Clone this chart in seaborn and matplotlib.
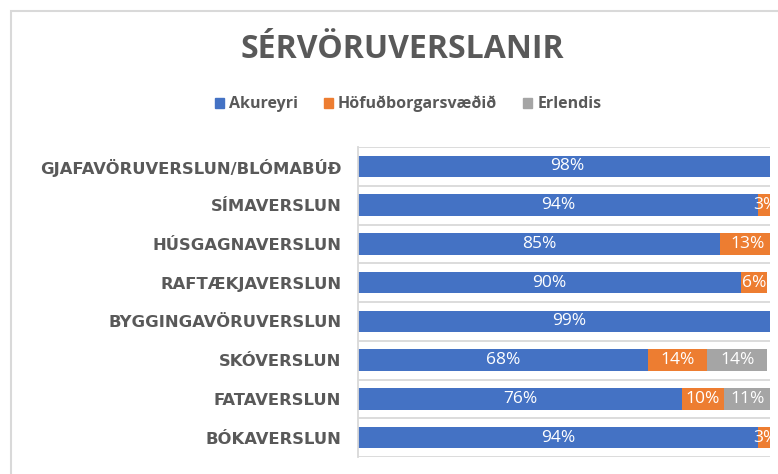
import matplotlib
matplotlib.use("Agg")
import matplotlib.pyplot as plt
import matplotlib.patches as mpatches
import numpy as np
import pandas as pd
import seaborn as sns

# gögn lesin af myndinni (hlutfall í %)
flokkar = ["GJAFAVÖRUVERSLUN/BLÓMABÚÐ", "SÍMAVERSLUN", "HÚSGAGNAVERSLUN",
           "RAFTÆKJAVERSLUN", "BYGGINGAVÖRUVERSLUN", "SKÓVERSLUN",
           "FATAVERSLUN", "BÓKAVERSLUN"]
akureyri = [98, 94, 85, 90, 99, 68, 76, 94]
hofudborg = [2, 3, 13, 6, 1, 14, 10, 3]
erlendis = [0, 0, 0, 0, 0, 14, 11, 0]
radir = ["Akureyri", "Höfuðborgarsvæðið", "Erlendis"]
litir = ["#4472C4", "#ED7D31", "#A5A5A5"]

df = pd.DataFrame({"flokkur": flokkar, "Akureyri": akureyri,
                   "Höfuðborgarsvæðið": hofudborg, "Erlendis": erlendis})
df["upp1"] = df["Akureyri"]
df["upp2"] = df["upp1"] + df["Höfuðborgarsvæðið"]
df["upp3"] = df["upp2"] + df["Erlendis"]

sns.set_style("white")
plt.rcParams["font.family"] = ["Open Sans", "DejaVu Sans"]

fig = plt.figure(figsize=(7.78, 4.74), dpi=100)
ax = fig.add_axes([358 / 778, 1 - 457 / 474, 412 / 778, 310 / 474])

# myndin er skorin við ~96.7% á x-ásnum
xmax = 96.7

# staflaðar súlur: lengsta fyrst, svo styttri ofan á
for col, c in zip(["upp3", "upp2", "upp1"], litir[::-1]):
    sns.barplot(data=df, x=col, y="flokkur", color=c, width=0.55,
                saturation=1, errorbar=None, linewidth=0, ax=ax)

# gildi á súlunum
for i, row in df.iterrows():
    vinstri = 0
    for r in radir:
        v = row[r]
        if v > 0 and vinstri + v / 2 < xmax:
            ax.text(vinstri + v / 2, i, f"{v}%", ha="center", va="center",
                    color="white", fontsize=12.5, clip_on=True)
        vinstri += v

n = len(flokkar)
ax.set_xlim(0, xmax)
ax.set_ylim(n - 0.5, -0.5)
ax.set_xlabel("")
ax.set_ylabel("")
ax.set_xticks([])
ax.set_yticks(np.arange(-0.5, n), minor=True)
ax.grid(which="minor", axis="y", color="#D9D9D9", lw=1.3)
ax.tick_params(axis="y", which="both", length=0, pad=12)
for lab in ax.get_yticklabels():
    lab.set_fontfamily("DejaVu Sans")
    lab.set_fontweight("bold")
    lab.set_fontsize(11.8)
    lab.set_color("#595959")
for s in ["top", "right", "bottom"]:
    ax.spines[s].set_visible(False)
ax.spines["left"].set_color("#D9D9D9")
ax.spines["left"].set_linewidth(1.3)

fig.text(402 / 778, 1 - 50 / 474, "SÉRVÖRUVERSLANIR", ha="center", va="center",
         fontsize=23, fontweight="bold", color="#595959")

handles = [mpatches.Patch(color=c, label=r) for r, c in zip(radir, litir)]
leg = fig.legend(handles=handles, loc="center", bbox_to_anchor=(408 / 778, 1 - 104 / 474),
                 ncol=3, frameon=False, handlelength=0.6, handleheight=0.6,
                 handletextpad=0.3, columnspacing=1.6,
                 prop={"size": 11.5, "weight": "bold"})
for t in leg.get_texts():
    t.set_color("#595959")

fig.add_artist(mpatches.Rectangle((11 / 778, -0.1), 1.2, 1.1 - 11 / 474,
                                  transform=fig.transFigure, fill=False,
                                  edgecolor="#D9D9D9", lw=1.5))

fig.savefig("out.png", dpi=100)
